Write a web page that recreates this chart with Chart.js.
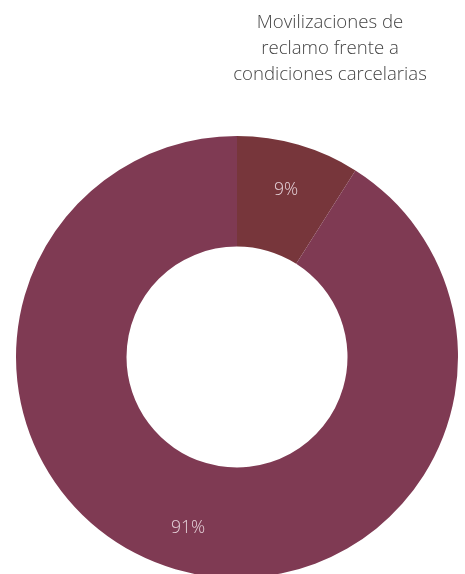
<!DOCTYPE html>
<html>
<head>
<meta charset="utf-8">
<script src="https://cdn.jsdelivr.net/npm/chart.js@4"></script>
<style>
  html, body { margin: 0; padding: 0; background: #ffffff; overflow: hidden; }
  #wrap { position: relative; width: 465px; height: 600px; }
</style>
</head>
<body>
<div id="wrap"><canvas id="c"></canvas></div>
<script>
const titleLines = ["Movilizaciones de", "reclamo frente a", "condiciones carcelarias"];
const categories = ["Sí", "No"];
const values = [9, 91];
const valueLabels = ["9%", "91%"];
const colors = ["#77363B", "#7F3A53"];

const titlePlugin = {
  id: 'sideTitle',
  afterDraw(chart) {
    const ctx = chart.ctx;
    ctx.save();
    ctx.font = '300 18.6px "Open Sans"';
    ctx.fillStyle = '#444444';
    ctx.textAlign = 'center';
    ctx.textBaseline = 'middle';
    titleLines.forEach((t, i) => ctx.fillText(t, 330, 23 + i * 26));
    ctx.restore();
  }
};

const labelPlugin = {
  id: 'sliceLabels',
  afterDatasetsDraw(chart) {
    const ctx = chart.ctx;
    const meta = chart.getDatasetMeta(0);
    ctx.save();
    ctx.font = '300 17.5px "Open Sans"';
    ctx.fillStyle = '#E6D3DA';
    ctx.textAlign = 'center';
    ctx.textBaseline = 'middle';
    meta.data.forEach((arc, i) => {
      const p = arc.getProps(['x', 'y', 'startAngle', 'endAngle', 'innerRadius', 'outerRadius'], true);
      const mid = (p.startAngle + p.endAngle) / 2;
      const r = p.innerRadius + (p.outerRadius - p.innerRadius) * 0.59;
      ctx.fillText(valueLabels[i], p.x + Math.cos(mid) * r, p.y + Math.sin(mid) * r + 2);
    });
    ctx.restore();
  }
};

new Chart(document.getElementById('c'), {
  type: 'doughnut',
  data: {
    labels: categories,
    datasets: [{
      data: values,
      backgroundColor: colors,
      borderWidth: 0
    }]
  },
  options: {
    responsive: true,
    maintainAspectRatio: false,
    animation: false,
    cutout: '50%',
    layout: { padding: { left: 16, right: 7, top: 136, bottom: 22 } },
    plugins: {
      legend: { display: false },
      tooltip: { enabled: false },
      title: { display: false }
    }
  },
  plugins: [titlePlugin, labelPlugin]
});
</script>
</body>
</html>
